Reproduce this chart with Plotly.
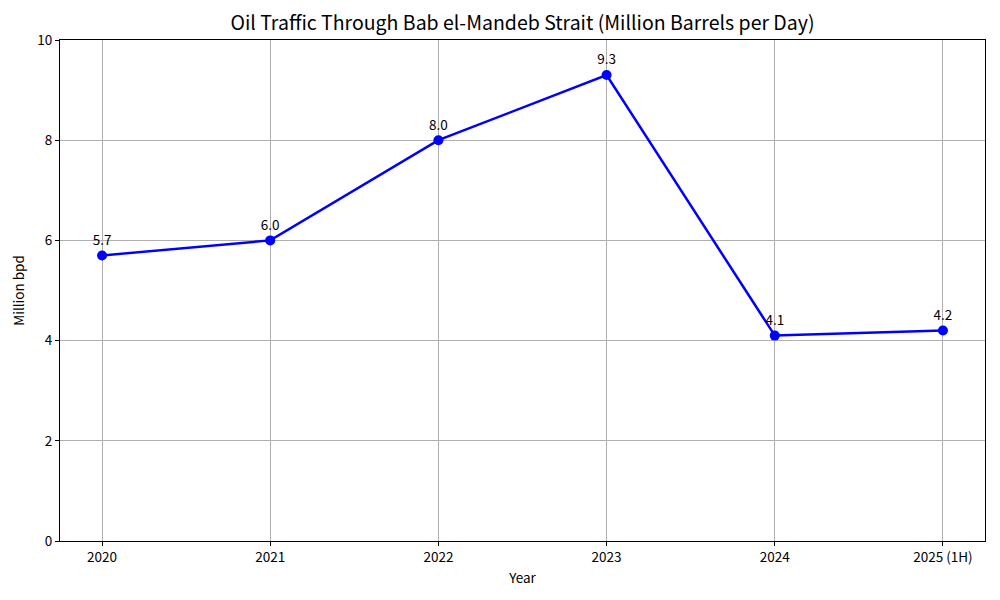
import plotly.graph_objects as go

years = ["2020", "2021", "2022", "2023", "2024", "2025 (1H)"]
values = [5.7, 6.0, 8.0, 9.3, 4.1, 4.2]
value_labels = ["5.7", "6.0", "8.0", "9.3", "4.1", "4.2"]
y_ticks = [0, 2, 4, 6, 8, 10]

FONT = "Noto Sans CJK JP"

fig = go.Figure()
fig.add_trace(go.Scatter(
    x=years, y=values, mode="lines+markers+text",
    line=dict(color="#0000ff", width=2.5),
    marker=dict(color="#0000ff", size=10),
    text=value_labels, textposition="top center",
    textfont=dict(family=FONT, size=13.5, color="black"),
    showlegend=False,
))

fig.update_layout(
    width=992, height=592,
    margin=dict(l=52, r=15, t=32, b=59),
    paper_bgcolor="white", plot_bgcolor="white",
    font=dict(family=FONT, size=13.5, color="black"),
    title=dict(text="Oil Traffic Through Bab el-Mandeb Strait (Million Barrels per Day)",
               x=0.5, xref="paper", y=0.974, yanchor="middle",
               font=dict(family=FONT, size=19.5, color="black")),
)
fig.update_xaxes(
    type="category", range=[-0.25, 5.25], automargin=False,
    showline=True, linecolor="black", linewidth=1, mirror=True,
    showgrid=True, gridcolor="#b0b0b0", gridwidth=1,
    ticks="outside", ticklen=4, tickcolor="black",
    title=dict(text="Year", font=dict(size=13.5), standoff=8),
    tickfont=dict(size=13.5),
)
fig.update_yaxes(
    range=[0, 10], tickvals=y_ticks, automargin=False,
    showline=True, linecolor="black", linewidth=1, mirror=True,
    showgrid=True, gridcolor="#b0b0b0", gridwidth=1,
    ticks="outside", ticklen=4, tickcolor="black", zeroline=False,
    title=dict(text="Million bpd", font=dict(size=13.5), standoff=10),
    tickfont=dict(size=13.5),
)

fig.write_html("out.html")
